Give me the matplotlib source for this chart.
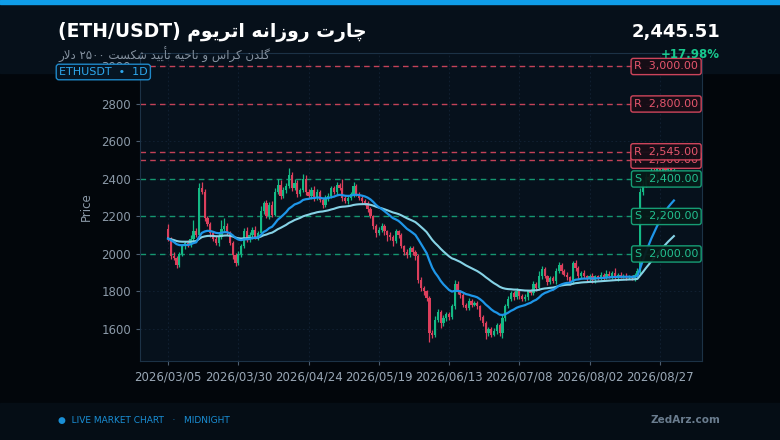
import matplotlib
matplotlib.use("Agg")
import matplotlib.pyplot as plt
import matplotlib.dates as mdates
import matplotlib.transforms as mtransforms
from matplotlib.patches import Rectangle
import numpy as np
import pandas as pd

# ---- data ----
START_DATE = "2026-03-05"
FIRST_OPEN = 2135
closes = [
    2082, 1990, 1980, 1940, 1998, 2040, 2060, 2048, 2080, 2125,
    2100, 2350, 2330, 2190, 2160, 2110, 2080, 2060, 2090, 2135,
    2150, 2110, 2060, 1995, 1950, 2000, 2040, 2120, 2080, 2100,
    2130, 2090, 2110, 2230, 2270, 2200, 2260, 2210, 2330, 2370,
    2310, 2340, 2360, 2420, 2350, 2380, 2320, 2340, 2400, 2330,
    2310, 2340, 2300, 2330, 2290, 2260, 2300, 2310, 2350, 2330,
    2370, 2350, 2300, 2280, 2300, 2320, 2360, 2320, 2300, 2280,
    2270, 2240, 2200, 2150, 2110, 2130, 2150, 2120, 2100, 2090,
    2070, 2120, 2100, 2040, 2010, 1995, 2030, 2010, 1990, 1860,
    1820, 1800, 1765, 1580, 1570, 1650, 1690, 1630, 1660, 1680,
    1665, 1720, 1840, 1800, 1780, 1730, 1710, 1750, 1730, 1740,
    1720, 1665, 1630, 1580, 1600, 1570, 1590, 1620, 1580, 1660,
    1720, 1760, 1790, 1770, 1800, 1775, 1760, 1770, 1800, 1790,
    1840, 1820, 1880, 1920, 1880, 1850, 1870, 1855, 1910, 1940,
    1910, 1890, 1875, 1850, 1950, 1925, 1880, 1900, 1880, 1865,
    1885, 1860, 1880, 1870, 1890, 1875, 1895, 1880, 1900, 1870,
    1890, 1880, 1885, 1875, 1880, 1870, 1890, 1910, 2330, 2370,
    2410, 2395, 2440, 2420, 2460, 2440, 2470, 2450, 2465, 2440,
    2445.51,
]
wick_up = [
    25, 10, 20, 10, 15, 12, 10, 15, 20, 55,
    15, 30, 35, 15, 10, 12, 10, 15, 20, 45,
    40, 15, 10, 10, 8, 15, 12, 20, 25, 15,
    15, 20, 15, 25, 15, 20, 15, 25, 20, 30,
    25, 15, 20, 40, 15, 20, 15, 10, 25, 20,
    15, 15, 20, 15, 10, 10, 15, 15, 10, 15,
    15, 10, 50, 15, 10, 10, 25, 15, 10, 10,
    15, 10, 10, 10, 10, 15, 15, 10, 10, 15,
    10, 15, 10, 10, 10, 15, 15, 10, 10, 10,
    15, 10, 10, 10, 15, 20, 15, 10, 15, 10,
    10, 15, 20, 15, 10, 10, 10, 15, 10, 10,
    10, 10, 10, 15, 10, 10, 15, 10, 10, 15,
    15, 15, 10, 15, 20, 10, 10, 15, 10, 15,
    15, 10, 30, 15, 10, 10, 15, 10, 15, 15,
    10, 10, 15, 10, 15, 20, 10, 10, 15, 10,
    10, 15, 10, 10, 15, 10, 20, 15, 10, 25,
    10, 15, 10, 15, 10, 10, 10, 15, 20, 25,
    20, 15, 25, 20, 20, 15, 20, 15, 15, 15,
    20,
]
wick_dn = [
    15, 15, 10, 15, 10, 10, 15, 10, 10, 15,
    10, 10, 10, 15, 10, 20, 10, 10, 15, 10,
    15, 10, 10, 20, 15, 10, 15, 10, 15, 15,
    20, 10, 15, 10, 15, 10, 15, 15, 10, 10,
    15, 10, 15, 10, 15, 10, 15, 10, 10, 15,
    10, 15, 15, 10, 15, 15, 10, 15, 10, 10,
    15, 10, 15, 10, 15, 10, 15, 10, 10, 15,
    10, 15, 10, 15, 20, 10, 15, 20, 30, 15,
    25, 10, 15, 10, 15, 15, 10, 15, 20, 15,
    15, 20, 15, 50, 20, 15, 15, 25, 15, 15,
    15, 10, 15, 15, 15, 15, 10, 10, 15, 10,
    15, 15, 15, 35, 15, 15, 10, 15, 15, 30,
    15, 10, 10, 15, 10, 15, 10, 10, 15, 10,
    10, 15, 10, 15, 10, 15, 10, 10, 15, 10,
    15, 10, 15, 15, 10, 15, 15, 10, 10, 15,
    10, 15, 15, 10, 10, 15, 10, 10, 15, 10,
    15, 10, 10, 15, 10, 10, 15, 10, 15, 15,
    15, 20, 15, 15, 20, 15, 20, 15, 15, 20,
    15,
]
resistance = [3000, 2800, 2545, 2500]
support = [2400, 2200, 2000]
last_price = "2,445.51"
change_pct = "+17.98%"

BG_HEAD = "#06101a"
BG_BODY = "#02060b"
BG_FOOT = "#050d15"
AX_BG = "#06111c"
UP = "#14b985"
DOWN = "#dc3f5c"
RED_LVL = "#d9485f"
GRN_LVL = "#17a57a"
TXT = "#8b99a8"

# ---- minimal Persian shaping (no reshaper available) ----
FORMS = {
    "ا": ("\uFE8D", "\uFE8E", None, None),
    "أ": ("\uFE83", "\uFE84", None, None),
    "د": ("\uFEA9", "\uFEAA", None, None),
    "ر": ("\uFEAD", "\uFEAE", None, None),
    "ز": ("\uFEAF", "\uFEB0", None, None),
    "و": ("\uFEED", "\uFEEE", None, None),
    "ت": ("\uFE95", "\uFE96", "\uFE97", "\uFE98"),
    "ح": ("\uFEA1", "\uFEA2", "\uFEA3", "\uFEA4"),
    "س": ("\uFEB1", "\uFEB2", "\uFEB3", "\uFEB4"),
    "ش": ("\uFEB5", "\uFEB6", "\uFEB7", "\uFEB8"),
    "ل": ("\uFEDD", "\uFEDE", "\uFEDF", "\uFEE0"),
    "م": ("\uFEE1", "\uFEE2", "\uFEE3", "\uFEE4"),
    "ن": ("\uFEE5", "\uFEE6", "\uFEE7", "\uFEE8"),
    "ه": ("\uFEE9", "\uFEEA", "\uFEEB", "\uFEEC"),
    "چ": ("\uFB7A", "\uFB7B", "\uFB7C", "\uFB7D"),
    "ک": ("\uFB8E", "\uFB8F", "\uFB90", "\uFB91"),
    "گ": ("\uFB92", "\uFB93", "\uFB94", "\uFB95"),
    "ی": ("\uFBFC", "\uFBFD", "\uFBFE", "\uFBFF"),
}


def joins_next(ch):
    f = FORMS.get(ch)
    return f is not None and f[2] is not None


def shape_word(w):
    out = []
    i = 0
    while i < len(w):
        ch = w[i]
        prev = i > 0 and joins_next(w[i - 1])
        if ch == "ل" and i + 1 < len(w) and w[i + 1] == "ا":
            out.append("\uFEFC" if prev else "\uFEFB")
            i += 2
            continue
        f = FORMS.get(ch)
        if f is None:
            out.append(ch)
            i += 1
            continue
        nxt = f[2] is not None and i + 1 < len(w) and w[i + 1] in FORMS
        if prev and nxt:
            out.append(f[3])
        elif prev:
            out.append(f[1])
        elif nxt:
            out.append(f[2])
        else:
            out.append(f[0])
        i += 1
    return "".join(reversed(out))


def rtl(text):
    words = [w if w.isdigit() else shape_word(w) for w in text.split(" ")]
    return " ".join(reversed(words))


# ---- build candles ----
dates = pd.date_range(START_DATE, periods=len(closes), freq="D")
c = np.array(closes, dtype=float)
o = np.concatenate([[FIRST_OPEN], c[:-1]])
top = np.maximum(o, c)
bot = np.minimum(o, c)
hi = top + np.array(wick_up)
lo = bot - np.array(wick_dn)
col = np.where(c >= o, UP, DOWN)
ema_fast = pd.Series(c).ewm(span=20, adjust=False).mean()
ema_slow = pd.Series(c).ewm(span=50, adjust=False).mean()

fig = plt.figure(figsize=(7.8, 4.4), dpi=100)
fig.patch.set_facecolor(BG_BODY)
fig.patches.append(Rectangle((0, 1 - 73 / 440), 1, 73 / 440, transform=fig.transFigure,
                             color=BG_HEAD, zorder=-10))
fig.patches.append(Rectangle((0, 1 - 4 / 440), 1, 4 / 440, transform=fig.transFigure,
                             color="#0f9de8", zorder=-9))
fig.patches.append(Rectangle((0, 0), 1, 37 / 440, transform=fig.transFigure,
                             color=BG_FOOT, zorder=-10))

ax = fig.add_axes([140 / 780, 1 - 361 / 440, 562 / 780, 308 / 440])
ax.set_facecolor(AX_BG)

ax.vlines(dates, lo, hi, colors=col, linewidth=0.9, zorder=3)
ax.bar(dates, top - bot, bottom=bot, width=0.8, color=col, linewidth=0, zorder=4)
ax.plot(dates, ema_slow, color="#86d3e6", linewidth=1.5, zorder=5)
ax.plot(dates, ema_fast, color="#1e96e8", linewidth=1.6, zorder=6)

for lvl in resistance:
    ax.axhline(lvl, color=RED_LVL, linestyle=(0, (4, 3)), linewidth=1.0, alpha=0.9, zorder=2)
for lvl in support:
    ax.axhline(lvl, color=GRN_LVL, linestyle=(0, (4, 3)), linewidth=1.0, alpha=0.9, zorder=2)

trans = mtransforms.blended_transform_factory(ax.transAxes, ax.transData)
for lvl in sorted(support) + sorted(resistance):
    is_r = lvl in resistance
    ec = RED_LVL if is_r else GRN_LVL
    tc = "#e5566d" if is_r else "#22bf8f"
    fc = "#170d16" if is_r else "#071a18"
    ax.text(0.993, lvl, f"{'R' if is_r else 'S'}  {lvl:,.2f}", transform=trans,
            ha="right", va="center", fontsize=8, color=tc, zorder=10,
            bbox=dict(boxstyle="round,pad=0.28,rounding_size=0.2", fc=fc, ec=ec,
                      lw=1.0, alpha=0.95))

ax.set_xlim(dates[0] - pd.Timedelta(days=10), dates[0] + pd.Timedelta(days=190))
ax.set_ylim(1429, 3072)
ax.set_xticks(dates[::25])
ax.xaxis.set_major_formatter(mdates.DateFormatter("%Y/%m/%d"))
ax.set_yticks(np.arange(1600, 3001, 200))
ax.tick_params(colors="#4d5e70", labelcolor=TXT, labelsize=8.5, length=3)
ax.tick_params(axis="x", labelcolor="#9aa8b6")
ax.set_ylabel("Price", color=TXT, fontsize=8.5, labelpad=6)
ax.grid(True, color="#15263a", linestyle=(0, (2, 3)), linewidth=0.6, alpha=0.8)
ax.set_axisbelow(True)
for s in ax.spines.values():
    s.set_color("#1c3246")

# ---- header / footer ----
fig.text(58 / 780, 1 - 32 / 440, "(ETH/USDT) " + rtl("چارت روزانه اتریوم"),
         fontsize=13.5, fontweight="bold", color="white", va="center", ha="left")
fig.text(58 / 780, 1 - 55 / 440, rtl("گلدن کراس و ناحیه تأیید شکست ۲۵۰۰ دلار"),
         fontsize=8.5, color="#8592a0", va="center", ha="left")
fig.text(720 / 780, 1 - 32 / 440, last_price, fontsize=13, fontweight="bold",
         color="white", va="center", ha="right")
fig.text(720 / 780, 1 - 54 / 440, change_pct, fontsize=8.5, fontweight="bold",
         color="#18c98e", va="center", ha="right")
fig.text(59 / 780, 1 - 72 / 440, "ETHUSDT  \u2022  1D", fontsize=8, color="#2ea8ee",
         va="center", ha="left", zorder=20,
         bbox=dict(boxstyle="round,pad=0.25,rounding_size=0.25", fc="#061523",
                   ec="#1f88c8", lw=1.0))
fig.text(58 / 780, 1 - 420 / 440, "\u25cf  LIVE MARKET CHART   \u00b7   MIDNIGHT",
         fontsize=6.5, color="#1a8fd6", va="center", ha="left")
fig.text(720 / 780, 1 - 420 / 440, "ZedArz.com", fontsize=7.5, fontweight="bold",
         color="#6a7c8e", va="center", ha="right")

fig.savefig("out.png", dpi=100, facecolor=fig.get_facecolor())
